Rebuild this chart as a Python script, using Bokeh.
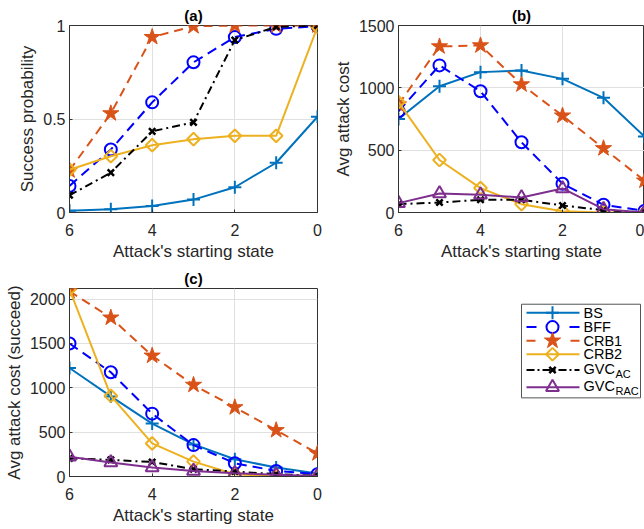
import math
from bokeh.plotting import figure
from bokeh.layouts import column, row
from bokeh.models import Range1d, FixedTicker
from bokeh.embed import file_html
from bokeh.resources import INLINE
from bokeh.core.properties import value

# ---------------- data ----------------
states = [6, 5, 4, 3, 2, 1, 0]
series_names = ["BS", "BFF", "CRB1", "CRB2", "GVC_AC", "GVC_RAC"]

# (a) success probability
succ_bs = [0.009, 0.018, 0.035, 0.069, 0.135, 0.266, 0.512]
succ_bff = [0.142, 0.337, 0.589, 0.803, 0.938, 0.982, 0.996]
succ_crb1 = [0.225, 0.53, 0.938, 0.996, 1.0, 1.0, 1.0]
succ_crb2 = [0.229, 0.301, 0.36, 0.392, 0.41, 0.41, 0.993]
succ_gvc_ac = [0.092, 0.213, 0.434, 0.482, 0.922, 0.993, 1.0]

# (b) average attack cost
cost_bs = [751, 1013, 1126, 1139, 1072, 920, 609]
cost_bff = [812, 1180, 973, 563, 231, 62, 13]
cost_crb1 = [866, 1332, 1340, 1027, 777, 515, 255]
cost_crb2 = [885, 421, 196, 67, 10, 0, 0]
cost_gvc_ac = [67, 80, 102, 102, 56, 19, 0]
cost_gvc_rac = [75, 153, 142, 121, 193, 27, 0]

# (c) average attack cost (succeed)
scost_bs = [1224, 903, 597, 362, 194, 101, 34]
scost_bff = [1500, 1175, 709, 354, 149, 63, 26]
scost_crb1 = [2089, 1791, 1362, 1033, 780, 522, 261]
scost_crb2 = [2110, 910, 373, 168, 26, 5, 0]
scost_gvc_ac = [205, 187, 164, 82, 56, 26, 7]
scost_gvc_rac = [224, 157, 101, 63, 37, 19, 7]

x_ticks = [0, 2, 4, 6]
a_ticks = [0, 0.5, 1]
a_tick_labels = ["0", "0.5", "1"]
b_ticks = [0, 500, 1000, 1500]
c_ticks = [0, 500, 1000, 1500, 2000]

# ---------------- styles ----------------
FONT = "Liberation Sans"
TXT = "#262626"
STYLES = {
    "BS": dict(color="#0072BD", dash="solid", marker="cross", size=13, fill=None, angle=0.0, mlw=2),
    "BFF": dict(color="#0000FF", dash="10 6", marker="circle", size=12, fill=None, angle=0.0, mlw=2),
    "CRB1": dict(color="#D95319", dash="9 6", marker="star", size=17, fill="#D95319", angle=0.0, mlw=1),
    "CRB2": dict(color="#EDB120", dash="solid", marker="square", size=9, fill=None, angle=math.pi / 4, mlw=2),
    "GVC_AC": dict(color="#000000", dash="8 4 2 4", marker="x", size=9, fill=None, angle=0.0, mlw=2.5),
    "GVC_RAC": dict(color="#7E2F8E", dash="solid", marker="triangle", size=13, fill=None, angle=0.0, mlw=2),
}


def make_fig(width, height, ml, mr, mt, mb, ymax, yticks, title, ylabel, title_standoff):
    p = figure(width=width, height=height, x_range=Range1d(6, 0), y_range=Range1d(0, ymax),
               toolbar_location=None, output_backend="svg",
               min_border_left=ml, min_border_right=mr, min_border_top=mt, min_border_bottom=mb,
               background_fill_color="white", border_fill_color="white")
    p.title.text = title
    p.title.align = "center"
    p.title.text_font = FONT
    p.title.text_font_size = "15px"
    p.title.text_font_style = "bold"
    p.title.text_color = "#000000"
    p.title.standoff = title_standoff
    p.outline_line_color = "#333333"
    p.outline_line_width = 1
    p.outline_line_alpha = 1
    for ax in (p.xaxis, p.yaxis):
        ax.axis_line_color = "#333333"
        ax.major_tick_in = 3
        ax.major_tick_out = 0
        ax.minor_tick_line_color = None
        ax.major_tick_line_color = "#333333"
        ax.major_label_text_font = FONT
        ax.major_label_text_font_size = "16px"
        ax.major_label_text_color = TXT
        ax.axis_label_text_font = FONT
        ax.axis_label_text_font_size = "17px"
        ax.axis_label_text_font_style = "normal"
        ax.axis_label_text_color = TXT
    p.xaxis.ticker = FixedTicker(ticks=x_ticks)
    p.yaxis.ticker = FixedTicker(ticks=yticks)
    p.xaxis.axis_label = "Attack's starting state"
    p.yaxis.axis_label = ylabel
    p.xaxis.major_label_standoff = 11
    p.xaxis.axis_label_standoff = 3
    p.yaxis.major_label_standoff = 4
    p.yaxis.axis_label_standoff = 3
    p.grid.grid_line_color = "#e0e0e0"
    p.grid.grid_line_width = 1
    p.xgrid.ticker = FixedTicker(ticks=x_ticks)
    p.ygrid.ticker = FixedTicker(ticks=yticks)
    return p


def draw(p, name, ys):
    s = STYLES[name]
    p.line(states, ys, line_color=s["color"], line_width=2, line_dash=s["dash"])
    p.scatter(states, ys, marker=s["marker"], size=s["size"], angle=s["angle"],
              line_color=s["color"], line_width=s["mlw"],
              fill_color=s["fill"], fill_alpha=1 if s["fill"] else 0)


# ---------------- (a) ----------------
pa = make_fig(330, 265, 69, 13, 24, 53, 1, a_ticks, "(a)", "Success probability", 3)
pa.yaxis.major_label_overrides = {t: l for t, l in zip(a_ticks, a_tick_labels)}
for name, ys in zip(series_names, [succ_bs, succ_bff, succ_crb1, succ_crb2, succ_gvc_ac]):
    draw(pa, name, ys)

# ---------------- (b) ----------------
pb = make_fig(314, 265, 67, 0, 25, 53, 1500, b_ticks, "(b)", "Avg attack cost", 4)
for name, ys in zip(series_names, [cost_bs, cost_bff, cost_crb1, cost_crb2, cost_gvc_ac, cost_gvc_rac]):
    draw(pb, name, ys)

# ---------------- (c) ----------------
pc = make_fig(330, 263, 69, 13, 23, 52, 2120, c_ticks, "(c)", "Avg attack cost (succeed)", 3)
for name, ys in zip(series_names, [scost_bs, scost_bff, scost_crb1, scost_crb2, scost_gvc_ac, scost_gvc_rac]):
    draw(pc, name, ys)

# ---------------- legend panel ----------------
LW, LH = 314, 263
pl = figure(width=LW, height=LH, x_range=Range1d(0, LW), y_range=Range1d(LH, 0),
            toolbar_location=None, output_backend="svg", x_axis_type=None, y_axis_type=None,
            min_border=0, background_fill_color="white", border_fill_color="white")
pl.grid.visible = False
pl.outline_line_color = None

box_l, box_r, box_t, box_b = 191, 310, 22, 153
pl.quad(left=[box_l], right=[box_r], top=[box_t], bottom=[box_b],
        fill_color="white", line_color="#555555", line_width=1)

row_y = [34, 54, 73, 92, 114, 138]
main_txt = ["BS", "BFF", "CRB1", "CRB2", "GVC", "GVC"]
sub_txt = ["", "", "", "", "AC", "RAC"]
line_x0, line_x1, mark_x, text_x = 196, 249, 222, 253

for name, yy, mt, st in zip(series_names, row_y, main_txt, sub_txt):
    s = STYLES[name]
    if name == "BFF":
        pl.line([line_x0, line_x0 + 10], [yy, yy], line_color=s["color"], line_width=2)
        pl.line([line_x1 - 10, line_x1], [yy, yy], line_color=s["color"], line_width=2)
    elif name == "CRB1":
        pl.line([line_x0, line_x0 + 9], [yy, yy], line_color=s["color"], line_width=2)
        pl.line([line_x1 - 9, line_x1], [yy, yy], line_color=s["color"], line_width=2)
    elif name == "GVC_AC":
        pl.line([line_x0, line_x1], [yy, yy], line_color=s["color"], line_width=2, line_dash="8 3 2 3")
    else:
        pl.line([line_x0, line_x1], [yy, yy], line_color=s["color"], line_width=2)
    pl.scatter([mark_x], [yy], marker=s["marker"], size=s["size"], angle=s["angle"],
               line_color=s["color"], line_width=s["mlw"],
               fill_color=s["fill"], fill_alpha=1 if s["fill"] else 0)
    ty = yy - 2 if st else yy
    pl.text([text_x], [ty], text=[mt], text_font=value(FONT), text_font_size="14.5px",
            text_baseline="middle", text_align="left", text_color="#000000")
    if st:
        pl.text([text_x + 32], [ty + 8], text=[st], text_font=value(FONT), text_font_size="11px",
                text_baseline="middle", text_align="left", text_color="#000000")

layout = column(row(pa, pb), row(pc, pl))
open("out.html", "w").write(file_html(layout, INLINE))
